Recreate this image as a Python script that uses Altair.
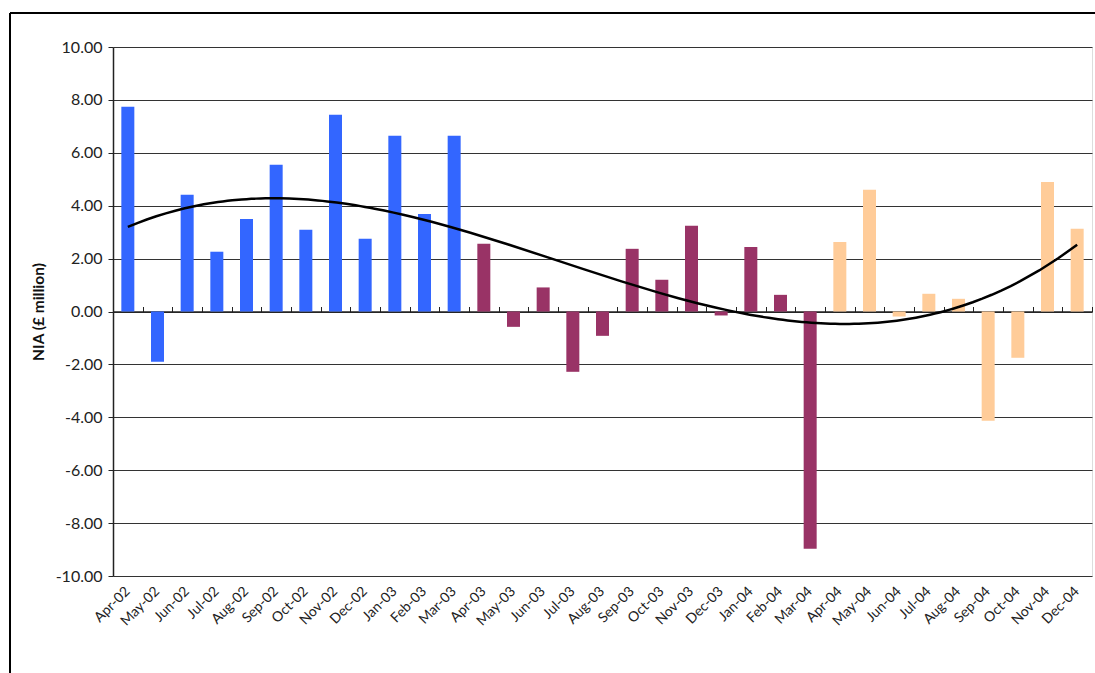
import altair as alt
import pandas as pd

# Monthly NIA figures, April 2002 to December 2004 (£ million)
months = [
    "Apr-02", "May-02", "Jun-02", "Jul-02", "Aug-02", "Sep-02", "Oct-02", "Nov-02",
    "Dec-02", "Jan-03", "Feb-03", "Mar-03", "Apr-03", "May-03", "Jun-03", "Jul-03",
    "Aug-03", "Sep-03", "Oct-03", "Nov-03", "Dec-03", "Jan-04", "Feb-04", "Mar-04",
    "Apr-04", "May-04", "Jun-04", "Jul-04", "Aug-04", "Sep-04", "Oct-04", "Nov-04",
    "Dec-04",
]
nia = [
    7.74, -1.90, 4.41, 2.26, 3.50, 5.55, 3.09, 7.44,
    2.75, 6.64, 3.69, 6.64, 2.56, -0.58, 0.91, -2.28,
    -0.92, 2.37, 1.20, 3.24, -0.15, 2.44, 0.63, -8.97,
    2.63, 4.60, -0.19, 0.67, 0.48, -4.13, -1.75, 4.90,
    3.13,
]
# Financial year each month belongs to
period = ["2002/03"] * 12 + ["2003/04"] * 12 + ["2004/05"] * 9
period_names = ["2002/03", "2003/04", "2004/05"]
period_colors = ["#3366FF", "#993366", "#FFCC99"]

df = pd.DataFrame({
    "month": months,
    "nia": nia,
    "period": period,
    "idx": list(range(len(months))),
})

W, H = 979, 529
FONT = "Lato"

y_scale = alt.Scale(domain=[-10, 10], nice=False, zero=False)


def y_axis():
    return alt.Axis(
        values=list(range(-10, 11, 2)),
        # plain hyphen for negatives, two decimals
        labelExpr="(datum.value < 0 ? '-' : '') + format(abs(datum.value), '.2f')",
        labelFont=FONT, labelFontSize=16, labelColor="#222", labelPadding=6,
        tickSize=5, tickColor="#222", domainColor="#222", domainWidth=1.5,
        grid=True, gridColor="#333", gridWidth=1,
        titleFont=FONT, titleFontSize=15.5, titleFontWeight="bold",
        titleColor="#111", titlePadding=9,
    )


Y = alt.Y("nia:Q", scale=y_scale, title="NIA (£ million)", axis=y_axis())

bars = alt.Chart(df).mark_bar(size=13).encode(
    x=alt.X(
        "month:N", sort=months, title=None,
        scale=alt.Scale(paddingInner=0, paddingOuter=0),
        axis=alt.Axis(
            labelAngle=-45, labelAlign="right", labelBaseline="middle",
            labelFontSize=14, labelFont=FONT, labelColor="#222",
            ticks=False, domain=False, labelPadding=13, labelOverlap=False,
        ),
    ),
    y=Y,
    color=alt.Color(
        "period:N", scale=alt.Scale(domain=period_names, range=period_colors),
        legend=None,
    ),
)

# Category axis drawn through the zero line: boundary ticks only
zero_axis = alt.Chart(df).mark_bar(opacity=0).encode(
    x=alt.X(
        "month:N", sort=months, title=None,
        scale=alt.Scale(paddingInner=0, paddingOuter=0),
        axis=alt.Axis(
            labels=False, ticks=True, tickBand="extent", tickSize=5,
            tickColor="#222", domain=True, domainColor="#222", domainWidth=1.5,
            offset=-H / 2, grid=False,
        ),
    ),
    y=Y,
)

# Polynomial trend line through the monthly values
trend = alt.Chart(df).transform_regression(
    "idx", "nia", method="poly", order=3, extent=[0, len(months) - 1]
).mark_line(color="black", strokeWidth=2.5).encode(
    x=alt.X("idx:Q", scale=alt.Scale(domain=[-0.5, len(months) - 0.5], nice=False, zero=False), axis=None),
    y=Y,
)

# Outer frame around the whole chart
frame = alt.Chart(df).mark_rect(
    fill=None, stroke="black", strokeWidth=1, clip=False
).encode(
    x=alt.value(-103), x2=alt.value(W + 200),
    y=alt.value(-34), y2=alt.value(H + 200),
)

chart = alt.layer(bars, zero_axis, trend, frame).resolve_scale(
    x="independent"
).properties(
    width=W, height=H,
    autosize=alt.AutoSizeParams(type="none"),
    padding={"left": 113, "top": 47, "right": 3, "bottom": 97},
).configure_view(strokeWidth=0, stroke="transparent").configure(background="white")

chart.save("out.html", embed_options={"renderer": "svg", "actions": False})
